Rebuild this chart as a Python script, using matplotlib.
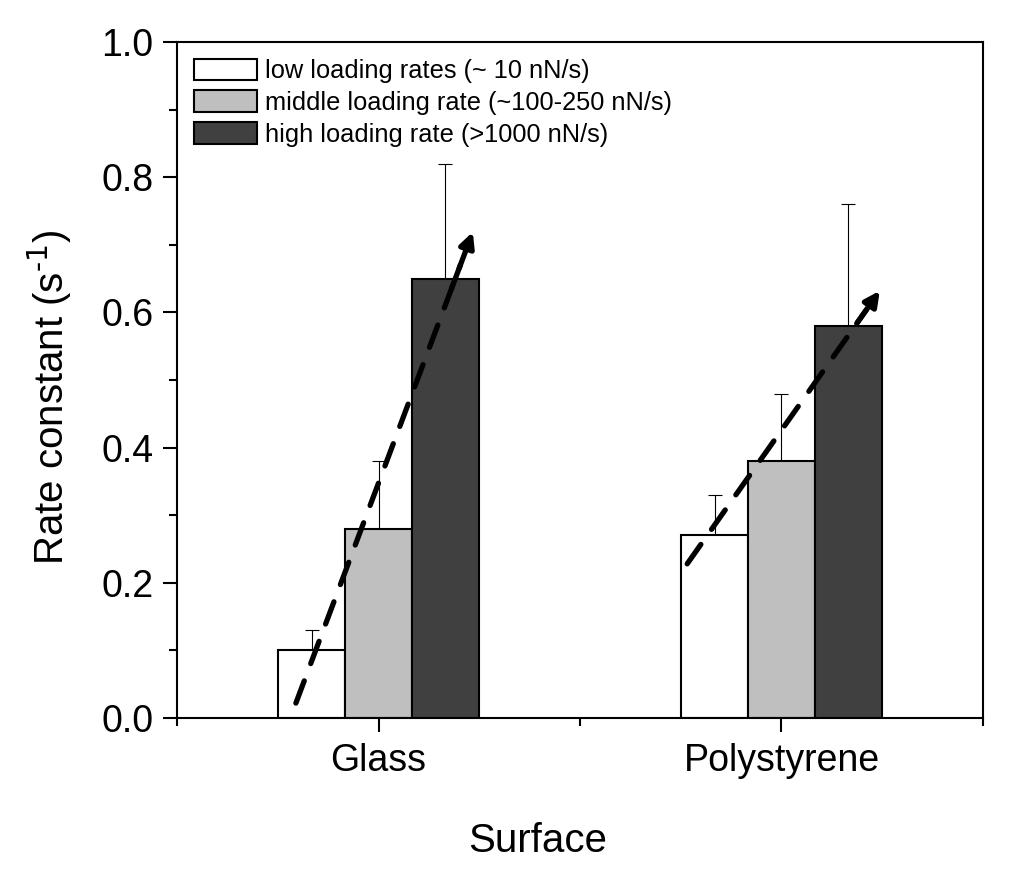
import matplotlib
matplotlib.use("Agg")
import matplotlib.pyplot as plt
import numpy as np
from matplotlib.ticker import MultipleLocator, FixedLocator

plt.rcParams['font.family'] = ['Liberation Sans', 'DejaVu Sans']
plt.rcParams['mathtext.default'] = 'regular'

# data
surfaces = ["Glass", "Polystyrene"]
series = ["low loading rates (~ 10 nN/s)",
          "middle loading rate (~100-250 nN/s)",
          "high loading rate (>1000 nN/s)"]
low = [0.10, 0.27]
middle = [0.28, 0.38]
high = [0.65, 0.58]
low_err = [0.03, 0.06]
middle_err = [0.10, 0.10]
high_err = [0.17, 0.18]
colors = ["white", "#bfbfbf", "#404040"]

# trend arrows (start, tip) in data coords
glass_arrow = [(0.795, 0.022), (1.234, 0.719)]
poly_arrow = [(1.766, 0.228), (2.244, 0.632)]

fig = plt.figure(figsize=(10.25, 8.83), dpi=100)
ax = fig.add_axes([0.1727, 0.1869, 0.9590 - 0.1727, 0.9524 - 0.1869])

x = np.arange(1, len(surfaces) + 1)
w = 0.166
for i, (vals, errs) in enumerate(zip([low, middle, high], [low_err, middle_err, high_err])):
    ax.bar(x + (i - 1) * w, vals, w, color=colors[i], edgecolor="black",
           linewidth=1.5, label=series[i], zorder=2)
    ax.errorbar(x + (i - 1) * w, vals, yerr=[np.zeros(len(errs)), errs], fmt="none",
                ecolor="black", elinewidth=0.8, capsize=5, capthick=0.8, zorder=1)

for (x0, y0), (x1, y1) in [glass_arrow, poly_arrow]:
    f = 0.93
    xm, ym = x0 + f * (x1 - x0), y0 + f * (y1 - y0)
    ax.plot([x0, xm], [y0, ym], color="black", lw=3.8, dashes=(4.5, 3.5),
            dash_capstyle="round", zorder=4)
    ax.annotate("", xy=(x1, y1), xytext=(x0 + 0.88 * (x1 - x0), y0 + 0.88 * (y1 - y0)),
                arrowprops=dict(arrowstyle="-|>", color="black", lw=3.8,
                                mutation_scale=22, shrinkA=0, shrinkB=0), zorder=4)

ax.set_xlim(0.5, 2.5)
ax.set_ylim(0, 1.0)
ax.set_xticks(x)
ax.set_xticklabels(surfaces)
ax.xaxis.set_minor_locator(FixedLocator([0.5, 1.5, 2.5]))
ax.yaxis.set_major_locator(MultipleLocator(0.2))
ax.yaxis.set_minor_locator(MultipleLocator(0.1))
ax.yaxis.set_major_formatter(matplotlib.ticker.FormatStrFormatter("%.1f"))

ax.tick_params(axis="both", which="major", direction="out", length=10, width=1.5,
               labelsize=27, pad=7)
ax.tick_params(axis="both", which="minor", direction="out", length=5.5, width=1.5)
ax.tick_params(axis="x", which="major", pad=8)
ax.tick_params(top=False, right=False, which="both")
for s in ax.spines.values():
    s.set_linewidth(1.5)

ax.set_xlabel("Surface", fontsize=29, va="center")
ax.xaxis.set_label_coords(0.448, -0.182)
ax.set_ylabel(r"Rate constant (s$^{\text{-1}}$)", fontsize=29, va="center")
ax.yaxis.set_label_coords(-0.158, 0.475)

ax.legend(loc="upper left", fontsize=18.3, frameon=False, handlelength=2.5,
          handleheight=0.9, handletextpad=0.3, labelspacing=0.3,
          borderaxespad=0.25, bbox_to_anchor=(0.0, 1.0))

fig.savefig("out.png", dpi=100)
